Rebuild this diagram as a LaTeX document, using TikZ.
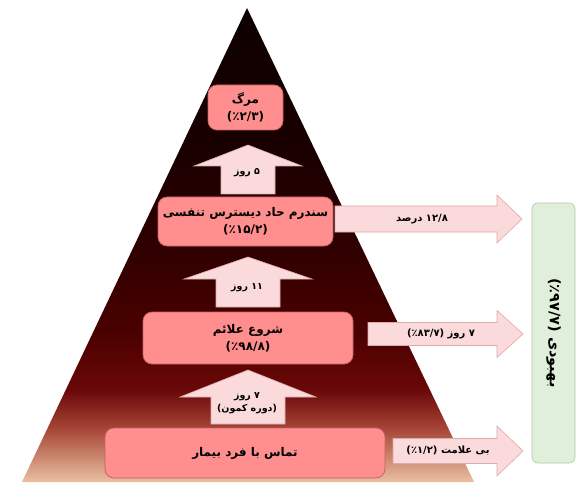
\documentclass[tikz,border=0pt]{standalone}
\usepackage{fontspec}
\TeXXeTstate=1
\newfontfamily\fa[Script=Arabic]{DejaVu Sans}
\definecolor{c0}{HTML}{EAC0A0}
\definecolor{c1}{HTML}{A84838}
\definecolor{c2}{HTML}{6A0808}
\definecolor{c3}{HTML}{4A0000}
\definecolor{c4}{HTML}{300000}
\definecolor{c5}{HTML}{1A0000}
\definecolor{c6}{HTML}{0D0000}
\definecolor{boxfill}{HTML}{FF8F8F}
\definecolor{boxline}{HTML}{C46060}
\definecolor{arrfill}{HTML}{FADADA}
\definecolor{arrline}{HTML}{DDAAAA}
\definecolor{greenfill}{HTML}{DFEFD9}
\definecolor{greenline}{HTML}{B5C5AD}
\pgfdeclareverticalshading{pyr}{100bp}{color(0bp)=(c0); color(25bp)=(c0); color(30.5bp)=(c1); color(34.7bp)=(c2); color(41bp)=(c3); color(49.5bp)=(c4); color(60bp)=(c5); color(75bp)=(c6); color(100bp)=(c6)}
\newcommand\UpBlock[6]{% cx, tip y, head base y, head half, shaft half, bottom y
  \draw[arrshape] (#1,#2) -- ({#1+#4},#3) -- ({#1+#5},#3) -- ({#1+#5},#6) -- ({#1-#5},#6) -- ({#1-#5},#3) -- ({#1-#4},#3) -- cycle;}
\newcommand\RightBlock[6]{% left x, cy, shaft half, head base x, head half, tip x
  \draw[arrshape] (#1,{#2-#3}) -- (#4,{#2-#3}) -- (#4,{#2-#5}) -- (#6,#2) -- (#4,{#2+#5}) -- (#4,{#2+#3}) -- (#1,{#2+#3}) -- cycle;}
\newcommand\RL[1]{\beginR #1\endR}
\newcommand\LR[1]{\beginL #1\endL{}}
\begin{document}
\begin{tikzpicture}[x=1pt,y=-1pt,
  pbox/.style={draw=boxline, line width=0.7pt, fill=boxfill, rounded corners=9pt, align=center, font=\fa\bfseries\fontsize{12}{17}\selectfont, inner sep=0pt},
  arrshape/.style={draw=arrline, line width=0.6pt, fill=arrfill},
  albl/.style={font=\fa\bfseries\fontsize{9.5}{13}\selectfont, align=center, inner sep=0pt},
  rlbl/.style={font=\fa\bfseries\fontsize{10}{13}\selectfont, inner sep=0pt}]
\useasboundingbox (0,0) rectangle (580,486);
\fill[white] (0,0) rectangle (580,486);
% pyramid
\shade[shading=pyr] (247,8) -- (474,482) -- (22,482) -- cycle;
% boxes
\node[pbox, minimum width=75pt, minimum height=45pt] (death) at (245.5,107.5) {\RL{مرگ}\\\LR{(٪۲/۳)}};
\node[pbox, minimum width=175pt, minimum height=49pt] (ards) at (245.5,221.5) {\RL{سندرم حاد دیسترس تنفسی}\\\LR{(٪۱۵/۲)}};
\node[pbox, minimum width=210pt, minimum height=52pt] (sympt) at (248,338) {\RL{شروع علائم}\\\LR{(٪۹۸/۸)}};
\node[pbox, minimum width=280pt, minimum height=50pt] (contact) at (245,453) {\RL{تماس با فرد بیمار}};
% up arrows
\UpBlock{248}{145}{166}{54}{27}{194}
\UpBlock{248}{257}{279}{64}{32}{307}
\UpBlock{248}{370}{397}{68}{37}{424}
\node[albl] (l5) at (247,173) {\RL{۵ روز}};
\node[albl] (l11) at (247,288) {\RL{\LR{۱۱} روز}};
\node[albl] (l7) at (247,403) {\RL{۷ روز}\\\RL{(دوره کمون)}};
% right arrows
\RightBlock{335}{219}{13}{497}{24}{522}
\RightBlock{368}{334}{11.5}{497}{23.5}{523}
\RightBlock{393}{451}{12.5}{497}{25}{523}
\node[rlbl] (r1) at (422,219) {\RL{\LR{۱۲/۸} درصد}};
\node[rlbl] (r2) at (441,334) {\RL{۷ روز \LR{(٪۸۳/۷)}}};
\node[rlbl] (r3) at (448,451) {\RL{بی علامت \LR{(٪۱/۲)}}};
% recovery
\node[draw=greenline, line width=0.6pt, fill=greenfill, rounded corners=6pt, minimum width=43pt, minimum height=260pt, inner sep=0pt] (recov) at (553.5,333) {};
\node[rotate=-90, font=\fa\bfseries\fontsize{14.5}{16}\selectfont, inner sep=0pt] (recovtxt) at (recov.center) {\RL{بهبودی \LR{(٪۹۷/۷)}}};
\end{tikzpicture}
\end{document}
